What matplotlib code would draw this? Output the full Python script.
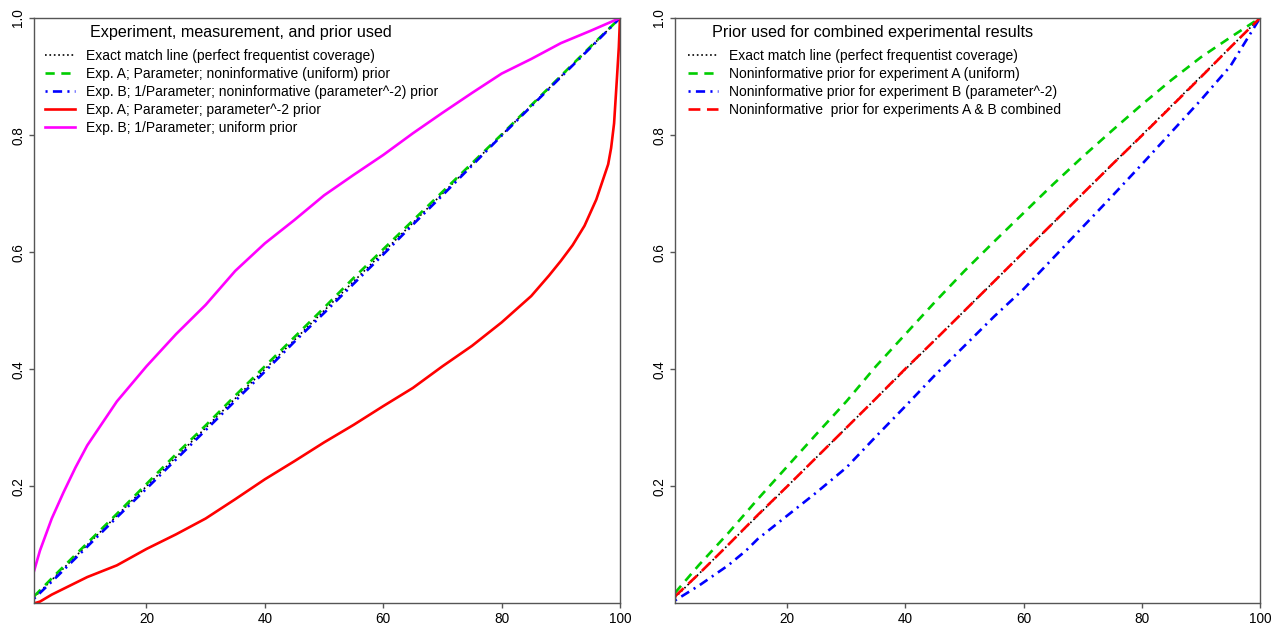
import matplotlib
matplotlib.use("Agg")
import matplotlib.pyplot as plt

plt.rcParams['font.family'] = ['Liberation Sans', 'DejaVu Sans']

# exact match line
x_exact = [1, 100]
y_exact = [0.01, 1.0]

# near-diagonal curves (read every 5 units)
x_diag = [1, 5, 10, 15, 20, 25, 30, 35, 40, 45, 50, 55, 60, 65, 70, 75, 80, 85, 90, 95, 100]
green_left = [0.012, 0.053, 0.103, 0.153, 0.204, 0.255, 0.304, 0.355, 0.405, 0.455, 0.505,
              0.556, 0.605, 0.654, 0.703, 0.752, 0.801, 0.851, 0.901, 0.951, 1.0]
blue_left = [0.008, 0.047, 0.097, 0.147, 0.196, 0.246, 0.296, 0.346, 0.396, 0.447, 0.496,
             0.546, 0.596, 0.647, 0.697, 0.748, 0.799, 0.849, 0.899, 0.949, 1.0]
red_right = [0.012, 0.05, 0.1, 0.151, 0.2, 0.25, 0.3, 0.35, 0.401, 0.45, 0.5,
             0.55, 0.6, 0.65, 0.7, 0.75, 0.799, 0.849, 0.899, 0.95, 1.0]

# exp A, parameter^-2 prior (left, red)
x_red = [1, 2, 4, 6, 8, 10, 15, 20, 25, 30, 35, 40, 45, 50, 55, 60, 65, 70, 75, 80,
         85, 88, 90, 92, 94, 96, 97, 98, 98.5, 99, 99.5, 99.8, 100]
y_red = [0.0, 0.003, 0.015, 0.025, 0.035, 0.045, 0.065, 0.093, 0.118, 0.145, 0.178, 0.212,
         0.243, 0.275, 0.305, 0.337, 0.368, 0.405, 0.44, 0.48, 0.525, 0.56, 0.585, 0.612,
         0.645, 0.69, 0.72, 0.75, 0.778, 0.82, 0.9, 0.95, 1.0]

# exp B, uniform prior (left, magenta)
x_mag = [1, 2, 4, 6, 8, 10, 15, 20, 25, 30, 35, 40, 45, 50, 55, 60, 65, 70, 75, 80, 85, 90, 95, 100]
y_mag = [0.055, 0.09, 0.145, 0.19, 0.232, 0.27, 0.345, 0.405, 0.46, 0.51, 0.568, 0.615,
         0.655, 0.697, 0.732, 0.766, 0.803, 0.838, 0.872, 0.905, 0.93, 0.957, 0.978, 1.0]

# right panel: exp A uniform (green), exp B parameter^-2 (blue)
green_right = [0.018, 0.065, 0.12, 0.178, 0.234, 0.29, 0.345, 0.405, 0.46, 0.515, 0.568,
               0.618, 0.667, 0.716, 0.763, 0.808, 0.852, 0.894, 0.933, 0.967, 1.0]
x_blue_r = [1, 5, 10, 13, 15, 20, 25, 30, 35, 40, 45, 50, 55, 60, 65, 70, 75, 80, 85, 90, 95, 100]
blue_right = [0.005, 0.03, 0.065, 0.09, 0.11, 0.15, 0.19, 0.232, 0.285, 0.337, 0.39, 0.44,
              0.49, 0.537, 0.59, 0.643, 0.696, 0.75, 0.805, 0.86, 0.918, 1.0]

GREEN = '#00CD00'
AXC = '#555555'

fig = plt.figure(figsize=(12.75, 6.25), dpi=100)
ax1 = fig.add_axes([34 / 1275, 21.6 / 625, 586 / 1275, 585.4 / 625])
ax2 = fig.add_axes([675 / 1275, 21.6 / 625, 585 / 1275, 585.4 / 625])


def style(ax):
    ax.set_xlim(1, 100)
    ax.set_ylim(0, 1)
    ax.set_xticks([20, 40, 60, 80, 100])
    ax.set_yticks([0.2, 0.4, 0.6, 0.8, 1.0])
    ax.set_yticklabels(['0.2', '0.4', '0.6', '0.8', '1.0'], rotation=90, va='center')
    ax.tick_params(direction='out', length=3.8, width=1, color=AXC, labelsize=9.8, pad=2.5)
    for s in ax.spines.values():
        s.set_color(AXC)
        s.set_linewidth(1)


def legend(ax, title, title_x, handle_x):
    ax.text(title_x, 0.976, title, transform=ax.transAxes, ha='center', va='center', fontsize=11.6)
    ax.legend(loc='upper left', bbox_to_anchor=(handle_x, 0.9475), frameon=False, fontsize=10,
              handlelength=2.15, handletextpad=0.82, labelspacing=0.29,
              borderaxespad=0, borderpad=0)


lw = 1.9
ax1.plot(x_exact, y_exact, color='black', ls=':', lw=1.2,
         label='Exact match line (perfect frequentist coverage)')
ax1.plot(x_diag, green_left, color=GREEN, lw=lw, dashes=(3.5, 2.5),
         label='Exp. A; Parameter; noninformative (uniform) prior')
ax1.plot(x_diag, blue_left, color='blue', lw=lw, dashes=(0.8, 2, 3.5, 2),
         label='Exp. B; 1/Parameter; noninformative (parameter^-2) prior')
ax1.plot(x_red, y_red, color='red', lw=lw, label='Exp. A; Parameter; parameter^-2 prior')
ax1.plot(x_mag, y_mag, color='magenta', lw=lw, label='Exp. B; 1/Parameter; uniform prior')
style(ax1)
legend(ax1, 'Experiment, measurement, and prior used', 0.353, 0.019)

ax2.plot(x_exact, y_exact, color='black', ls=':', lw=1.2,
         label='Exact match line (perfect frequentist coverage)')
ax2.plot(x_diag, green_right, color=GREEN, lw=lw, dashes=(3.5, 2.5),
         label='Noninformative prior for experiment A (uniform)')
ax2.plot(x_blue_r, blue_right, color='blue', lw=lw, dashes=(0.8, 2, 3.5, 2),
         label='Noninformative prior for experiment B (parameter^-2)')
ax2.plot(x_diag, red_right, color='red', lw=lw, dashes=(4.5, 2.5),
         label='Noninformative  prior for experiments A & B combined')
style(ax2)
legend(ax2, 'Prior used for combined experimental results', 0.338, 0.022)

fig.savefig('out.png', dpi=100)
